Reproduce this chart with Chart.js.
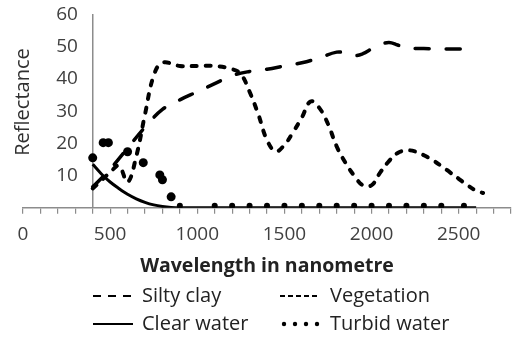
<!DOCTYPE html>
<html>
<head>
<meta charset="utf-8">
<script src="https://cdn.jsdelivr.net/npm/chart.js@4.4.1/dist/chart.umd.min.js"></script>
<style>
html, body { margin: 0; padding: 0; background: #fff; }
#wrap { width: 520px; height: 340px; }
</style>
</head>
<body>
<div id="wrap"><canvas id="reflChart"></canvas></div>
<script>
// values (wavelength in nm, reflectance in %)
const siltyWl   = [400, 500, 600, 700, 800, 900, 1000, 1100, 1200, 1300, 1400, 1500, 1600, 1700, 1800, 1850, 1900, 1950, 2000, 2050, 2100, 2150, 2200, 2300, 2400, 2500, 2600];
const siltyRefl = [6.5, 12, 18.5, 25, 30.5, 33.5, 36, 38.5, 41, 42.3, 43, 44, 45, 46.5, 48.3, 48, 47.2, 47.8, 49.3, 50.6, 51.3, 50.5, 49.6, 49.4, 49.3, 49.3, 49.3];

const vegWl   = [400, 450, 500, 550, 600, 650, 700, 750, 800, 900, 1000, 1100, 1200, 1250, 1300, 1350, 1400, 1450, 1500, 1550, 1600, 1650, 1700, 1750, 1800, 1850, 1900, 1950, 2000, 2050, 2100, 2150, 2200, 2250, 2300, 2350, 2400, 2450, 2500, 2550, 2600, 2640];
const vegRefl = [6, 8.5, 11, 13, 8, 16, 29, 41, 45, 44, 44, 44, 43, 41.5, 36, 29, 21, 17.5, 19.5, 23.5, 28, 33, 31, 26, 19, 14, 10, 7, 7, 11, 14.5, 17, 17.8, 17.5, 16.3, 14.8, 13, 11, 9, 7, 5.3, 4.6];

const clearWl   = [400, 450, 500, 550, 600, 650, 700, 750, 800, 850, 900, 2600];
const clearRefl = [13.5, 10.5, 8, 6, 4.2, 2.8, 1.7, 0.9, 0.4, 0.1, 0, 0];

const turbidWl   = [400, 460, 490, 600, 690, 785, 800, 850, 900, 1100, 1200, 1300, 1400, 1500, 1600, 1700, 1800, 1900, 2000, 2100, 2200, 2300, 2400, 2530];
const turbidRefl = [15.5, 20.2, 20.2, 17.4, 14, 10.2, 8.7, 3.4, 0.6, 0.6, 0.6, 0.6, 0.6, 0.6, 0.6, 0.6, 0.6, 0.6, 0.6, 0.6, 0.6, 0.6, 0.6, 0.6];

const seriesNames = ['Silty clay', 'Vegetation', 'Clear water', 'Turbid water'];

function toPoints(xs, ys) {
    return xs.map((x, i) => ({ x: x, y: ys[i] }));
}

const FONT = '"Open Sans", Lato, sans-serif';
const axisGrey = '#8c8c8c';
const textCol = '#404040';

// Y axis title and 2x2 legend, drawn by hand like the original
const extrasPlugin = {
    id: 'extras',
    afterDraw(chart) {
        const c = chart.ctx;
        c.save();
        c.fillStyle = '#303030';
        c.font = '20px ' + FONT;
        c.textAlign = 'center';
        c.textBaseline = 'middle';
        c.translate(23, 102);
        c.rotate(-Math.PI / 2);
        c.fillText('Reflectance', 0, 0);
        c.restore();

        c.save();
        c.strokeStyle = '#000';
        c.fillStyle = '#000';
        c.lineWidth = 2;
        const rows = [296, 324];
        const cols = [93, 280];
        // silty clay
        c.setLineDash([8, 7]);
        c.beginPath(); c.moveTo(cols[0], rows[0]); c.lineTo(cols[0] + 40, rows[0]); c.stroke();
        // vegetation
        c.setLineDash([5, 3]);
        c.beginPath(); c.moveTo(cols[1], rows[0]); c.lineTo(cols[1] + 40, rows[0]); c.stroke();
        // clear water
        c.setLineDash([]);
        c.beginPath(); c.moveTo(cols[0], rows[1]); c.lineTo(cols[0] + 40, rows[1]); c.stroke();
        // turbid water
        for (let k = 0; k < 4; k++) {
            c.beginPath(); c.arc(cols[1] + 4 + k * 11, rows[1], 2.2, 0, Math.PI * 2); c.fill();
        }
        c.fillStyle = '#222';
        c.font = '20px ' + FONT;
        c.textAlign = 'left';
        c.textBaseline = 'middle';
        c.fillText(seriesNames[0], 142, rows[0]);
        c.fillText(seriesNames[1], 330, rows[0]);
        c.fillText(seriesNames[2], 142, rows[1]);
        c.fillText(seriesNames[3], 330, rows[1]);
        c.restore();
    }
};

let ctx = document.getElementById('reflChart').getContext('2d');
let reflChart = new Chart(ctx, {
    type: 'line',
    data: {
        datasets: [
            {
                label: seriesNames[2],
                data: toPoints(clearWl, clearRefl),
                borderColor: '#000',
                borderWidth: 3,
                pointRadius: 0,
                tension: 0.4,
                cubicInterpolationMode: 'monotone'
            },
            {
                label: seriesNames[0],
                data: toPoints(siltyWl, siltyRefl),
                borderColor: '#000',
                borderWidth: 3.5,
                borderDash: [14, 17],
                borderCapStyle: 'round',
                pointRadius: 0,
                tension: 0.4
            },
            {
                label: seriesNames[1],
                data: toPoints(vegWl, vegRefl),
                borderColor: '#000',
                borderWidth: 4,
                borderDash: [5, 9],
                borderCapStyle: 'round',
                pointRadius: 0,
                tension: 0.4
            },
            {
                label: seriesNames[3],
                data: toPoints(turbidWl, turbidRefl),
                showLine: false,
                backgroundColor: '#000',
                borderColor: '#000',
                borderWidth: 0,
                pointRadius: ctx => (ctx.raw && ctx.raw.y > 2 ? 4.5 : 3),
                pointHoverRadius: 0
            }
        ]
    },
    options: {
        responsive: true,
        maintainAspectRatio: false,
        animation: false,
        layout: { padding: { left: 23, right: 0, top: 6, bottom: 62 } },
        scales: {
            x: {
                type: 'linear',
                min: 0,
                max: 2800,
                border: { color: axisGrey, width: 1.5 },
                grid: { drawOnChartArea: false, tickLength: 6, color: axisGrey, lineWidth: 1.2 },
                ticks: {
                    stepSize: 100,
                    autoSkip: false,
                    maxRotation: 0,
                    padding: 9,
                    color: textCol,
                    font: { family: FONT, size: 19 },
                    callback: v => (v % 500 === 0 ? String(v) : '')
                },
                title: {
                    display: true,
                    text: 'Wavelength in nanometre',
                    color: '#222',
                    font: { family: FONT, size: 19.5, weight: 'bold' },
                    padding: { top: 0, bottom: 0 }
                }
            },
            y: {
                type: 'linear',
                min: 0,
                max: 60,
                position: { x: 400 },
                afterFit: s => { s.width = 0; },
                border: { color: axisGrey, width: 1.5 },
                grid: { drawOnChartArea: false, drawTicks: false },
                ticks: {
                    stepSize: 10,
                    color: textCol,
                    font: { family: FONT, size: 19 },
                    // the labels sit right against the crossing axis, spaces give the gap
                    callback: v => (v === 0 ? '' : v + '   ')
                }
            }
        },
        plugins: {
            legend: { display: false },
            tooltip: { enabled: false }
        }
    },
    plugins: [extrasPlugin]
});
</script>
</body>
</html>
